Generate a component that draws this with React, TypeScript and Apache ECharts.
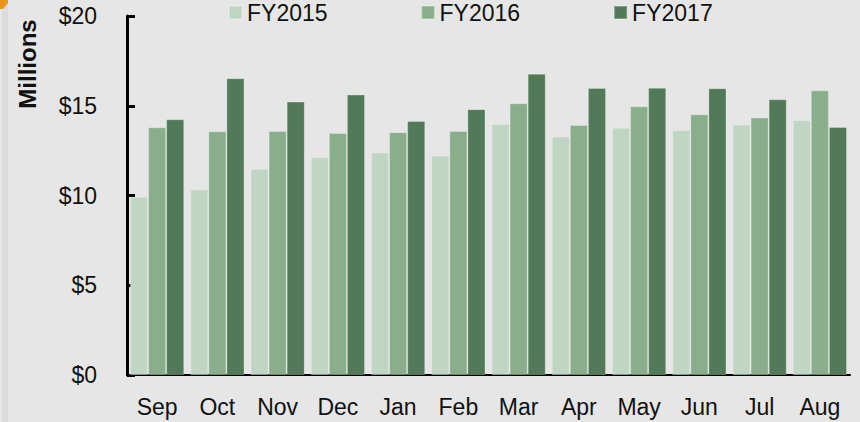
import React, { useEffect, useRef } from "react";
import * as echarts from "echarts";

const months = ["Sep", "Oct", "Nov", "Dec", "Jan", "Feb", "Mar", "Apr", "May", "Jun", "Jul", "Aug"];
const fy2015 = [9.93, 10.34, 11.49, 12.15, 12.39, 12.23, 13.98, 13.28, 13.78, 13.65, 13.95, 14.2];
const fy2016 = [13.8, 13.58, 13.59, 13.48, 13.53, 13.6, 15.14, 13.93, 14.97, 14.53, 14.35, 15.86];
const fy2017 = [14.25, 16.53, 15.23, 15.62, 14.15, 14.81, 16.78, 15.99, 16.0, 15.98, 15.36, 13.82];
const seriesNames = ["FY2015", "FY2016", "FY2017"];
const colors = ["#c0d5c4", "#8aae8c", "#527a58"];

const FONT = "Liberation Sans";

export default function App() {
  const ref = useRef<HTMLDivElement>(null);
  useEffect(() => {
    document.body.style.margin = "0";
    const chart = echarts.init(ref.current!, null, { renderer: "svg" });
    const data = [fy2015, fy2016, fy2017];
    chart.setOption({
      animation: false,
      backgroundColor: "#e6e6e6",
      color: colors,
      textStyle: { fontFamily: FONT },
      grid: { left: 127, right: 10, top: 16, bottom: 47 },
      legend: {
        left: 223,
        top: -4,
        icon: "rect",
        itemWidth: 13,
        itemHeight: 13,
        itemGap: 93,
        textStyle: { fontSize: 23, color: "#111", fontFamily: FONT },
        data: seriesNames,
      },
      xAxis: {
        type: "category",
        data: months,
        axisLine: { show: true, lineStyle: { color: "#000", width: 2 } },
        axisTick: { show: false },
        axisLabel: { fontSize: 23, color: "#111", margin: 20, fontFamily: FONT },
      },
      yAxis: {
        type: "value",
        min: 0,
        max: 20,
        interval: 5,
        splitLine: { show: false },
        axisLine: { show: true, lineStyle: { color: "#000", width: 3 } },
        axisTick: { show: true, inside: true, length: 8, lineStyle: { color: "#000", width: 3 } },
        axisLabel: {
          fontSize: 23,
          color: "#111",
          margin: 30,
          fontFamily: FONT,
          formatter: (v: number) => "$" + v,
        },
      },
      graphic: [
        { type: "rect", shape: { x: 2, y: 0, width: 6, height: 422 }, style: { fill: "#dcdcdc" }, z: -1 },
        { type: "polygon", shape: { points: [[0, 0], [8, 0], [8, 3], [3, 9], [0, 9]] }, style: { fill: "#e8961e" } },
        {
          type: "text",
          x: 27,
          y: 64,
          rotation: Math.PI / 2,
          style: {
            text: "Millions",
            fontSize: 24,
            fontWeight: "bold",
            fontFamily: FONT,
            fill: "#111",
            align: "center",
            verticalAlign: "middle",
          },
        },
      ],
      series: seriesNames.map((name, i) => ({
        name,
        type: "bar",
        data: data[i],
        barGap: "0%",
        barCategoryGap: "10%",
        itemStyle: { color: colors[i], borderColor: "rgba(255,255,255,0.25)", borderWidth: 1 },
      })),
    });
    return () => chart.dispose();
  }, []);
  return <div ref={ref} style={{ width: 860, height: 422 }} />;
}
